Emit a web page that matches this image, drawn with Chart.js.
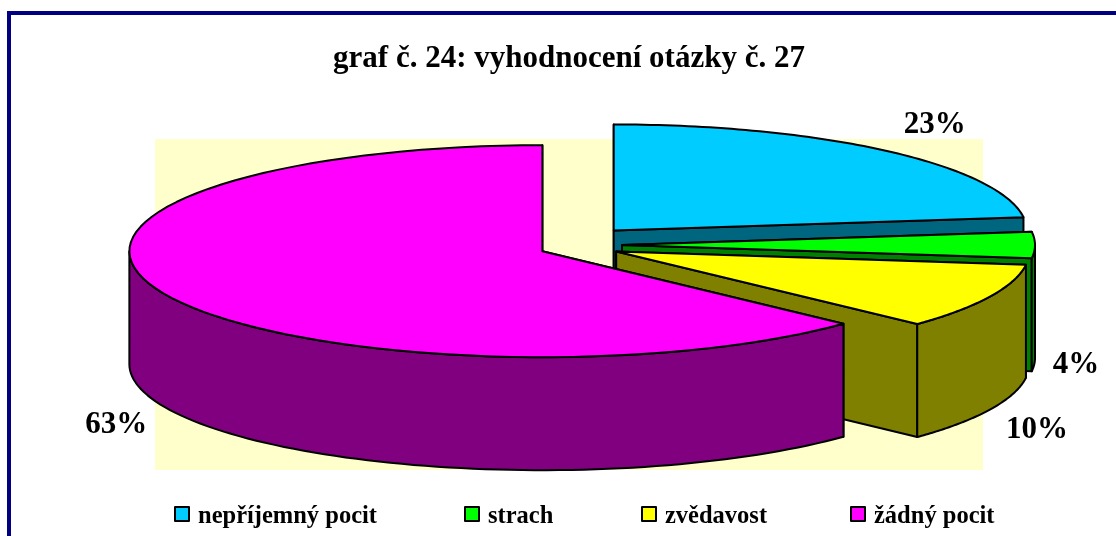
<!DOCTYPE html>
<html><head><meta charset="utf-8">
<style>html,body{margin:0;padding:0;background:#fff}canvas{display:block}</style>
<script src="https://cdn.jsdelivr.net/npm/chart.js@4/dist/chart.umd.min.js"></script>
</head><body>
<canvas id="c" width="1116" height="536" style="width:1116px;height:536px"></canvas>
<script>
const categories = ['nepříjemný pocit', 'strach', 'zvědavost', 'žádný pocit'];
const values = [23, 4, 10, 63];
const topColors = ['#00CCFF', '#00FF00', '#FFFF00', '#FF00FF'];
const sideColors = ['#006680', '#008000', '#808000', '#800080'];
const explode = [204, 168, 160, 164];
const titleText = 'graf č. 24: vyhodnocení otázky č. 27';
const legendX = [175, 465, 642, 851];
const labelNudgeX = [2, -5, 1, 2];
const labelNudgeY = [4, -4, 9, 8];

const SERIF = '"Liberation Serif","Times New Roman",serif';
const K = 106 / 413, OFFK = 0.38, DEPTH = 113, CX = 580, CY = 245;

function project(el, a, r) {
  const off = (el.options.offset || 0) / 4, h = (el.startAngle + el.endAngle) / 2;
  return { x: CX + Math.cos(h) * off + Math.cos(a) * r,
           y: CY + Math.sin(h) * off * OFFK + Math.sin(a) * r * K };
}
function rim(ctx, el, a0, a1, dy, rev) {
  const n = 80;
  for (let i = 0; i <= n; i++) {
    const t = rev ? 1 - i / n : i / n, a = a0 + (a1 - a0) * t, p = project(el, a, el.outerRadius);
    ctx.lineTo(p.x, p.y + dy);
  }
}
function paint(ctx, fill) {
  ctx.fillStyle = fill; ctx.strokeStyle = '#000'; ctx.lineWidth = 2; ctx.lineJoin = 'round';
  ctx.fill(); ctx.stroke();
}
function radial(ctx, el, a, fill) {
  const c = project(el, 0, 0), p = project(el, a, el.outerRadius);
  ctx.beginPath(); ctx.moveTo(c.x, c.y); ctx.lineTo(p.x, p.y);
  ctx.lineTo(p.x, p.y + DEPTH); ctx.lineTo(c.x, c.y + DEPTH); ctx.closePath();
  paint(ctx, fill);
}
const pie3d = {
  id: 'pie3d',
  beforeDraw(chart) {
    const ctx = chart.ctx;
    ctx.save();
    ctx.fillStyle = '#000080';
    ctx.fillRect(7, 11, 1109, 4);
    ctx.fillRect(7, 11, 4, 525);
    ctx.fillStyle = '#FFFFCC';
    ctx.fillRect(155, 139, 828, 331);
    ctx.restore();
  },
  beforeDatasetDraw(chart, args) {
    const ctx = chart.ctx, meta = args.meta, ds = chart.data.datasets[0];
    ctx.save();
    meta.data.forEach((el, i) => {
      const side = sideColors[i], s = el.startAngle, e = el.endAngle;
      radial(ctx, el, s, side);
      radial(ctx, el, e, side);
      const a0 = Math.max(s, 0), a1 = Math.min(e, Math.PI);
      if (a1 > a0) {
        ctx.beginPath();
        rim(ctx, el, a0, a1, 0, false);
        rim(ctx, el, a0, a1, DEPTH, true);
        ctx.closePath();
        paint(ctx, side);
      }
      const c = project(el, 0, 0);
      ctx.beginPath(); ctx.moveTo(c.x, c.y);
      rim(ctx, el, s, e, 0, false);
      ctx.closePath();
      paint(ctx, ds.backgroundColor[i]);
    });
    ctx.fillStyle = '#000';
    ctx.font = 'bold 31px ' + SERIF;
    ctx.textAlign = 'center'; ctx.textBaseline = 'middle';
    meta.data.forEach((el, i) => {
      const h = (el.startAngle + el.endAngle) / 2, p = project(el, h, el.outerRadius);
      const front = Math.sin(h) > -0.1;
      ctx.fillText(values[i] + '%', p.x + (Math.cos(h) > 0 ? 46 : -49) + labelNudgeX[i],
                   p.y + (front ? DEPTH + 11 : -30) + labelNudgeY[i]);
    });
    ctx.font = 'bold 24.5px ' + SERIF;
    ctx.textAlign = 'left'; ctx.textBaseline = 'alphabetic';
    ctx.lineWidth = 2; ctx.strokeStyle = '#000';
    categories.forEach((name, i) => {
      ctx.fillStyle = topColors[i];
      ctx.fillRect(legendX[i], 507, 14, 14);
      ctx.strokeRect(legendX[i], 507, 14, 14);
      ctx.fillStyle = '#000';
      ctx.fillText(name, legendX[i] + 23, 523);
    });
    ctx.restore();
    return false;
  }
};
new Chart(document.getElementById('c'), {
  type: 'pie',
  data: { labels: categories, datasets: [{ data: values, backgroundColor: topColors, offset: explode, borderWidth: 0 }] },
  plugins: [pie3d],
  options: {
    responsive: false, animation: false, radius: 413, rotation: 0,
    layout: { padding: { left: 22, top: 40 } },
    plugins: {
      legend: { display: false }, tooltip: { enabled: false },
      title: { display: true, text: titleText, color: '#000', font: { family: SERIF, size: 31, weight: 'bold' }, padding: 0 }
    }
  }
});
</script></body></html>
